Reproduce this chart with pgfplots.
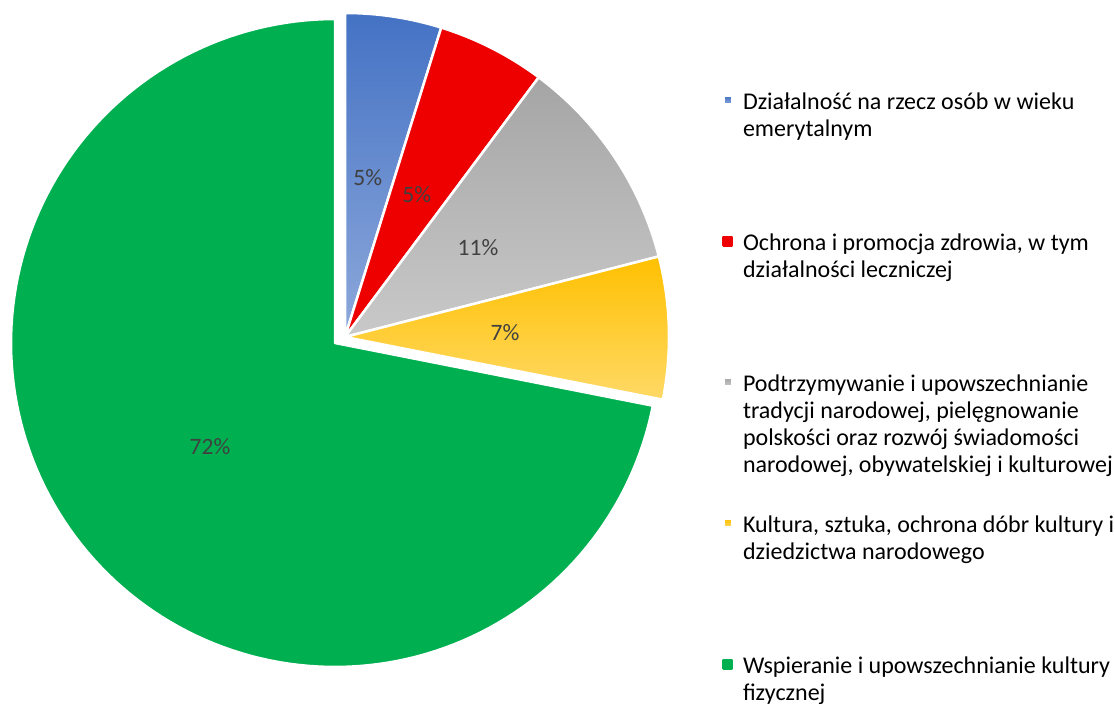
\documentclass[border=0pt]{standalone}
\usepackage{pgfplots}
\pgfplotsset{compat=1.18}
\usepackage{pgfplotstable}
\usepackage{fontspec}
\setmainfont{Carlito}
\definecolor{bluetop}{HTML}{4472C4}
\definecolor{bluebot}{HTML}{8EA9DB}
\definecolor{redc}{HTML}{EE0000}
\definecolor{graytop}{HTML}{A5A5A5}
\definecolor{graybot}{HTML}{C9C9C9}
\definecolor{yeltop}{HTML}{FFC000}
\definecolor{yelbot}{HTML}{FFD966}
\definecolor{greenc}{HTML}{00B050}
\definecolor{labelc}{HTML}{404040}

\pgfplotstableread{
share
4.8
5.4
10.8
7.1
71.9
}\piedata

\begin{document}
\begin{tikzpicture}
\pgfplotstablegetelem{0}{share}\of\piedata \pgfmathsetmacro{\vA}{\pgfplotsretval}
\pgfplotstablegetelem{1}{share}\of\piedata \pgfmathsetmacro{\vB}{\pgfplotsretval}
\pgfplotstablegetelem{2}{share}\of\piedata \pgfmathsetmacro{\vC}{\pgfplotsretval}
\pgfplotstablegetelem{3}{share}\of\piedata \pgfmathsetmacro{\vD}{\pgfplotsretval}
\pgfplotstablegetelem{4}{share}\of\piedata \pgfmathsetmacro{\vE}{\pgfplotsretval}
\pgfmathsetmacro{\aO}{90}
\pgfmathsetmacro{\aA}{\aO-3.6*\vA}
\pgfmathsetmacro{\aB}{\aA-3.6*\vB}
\pgfmathsetmacro{\aC}{\aB-3.6*\vC}
\pgfmathsetmacro{\aD}{\aC-3.6*\vD}
\pgfmathsetmacro{\aE}{\aD-3.6*\vE}
\def\cx{345}\def\cy{367}\def\gx{335}\def\gy{361}\def\R{324}
\useasboundingbox (0,0) rectangle (1115bp,704bp);
\begin{axis}[
  at={(0,0)}, anchor=south west,
  scale only axis, width=1115bp, height=704bp,
  xmin=0, xmax=1115, ymin=0, ymax=704,
  hide axis, clip=false,
  legend cell align=left,
  legend style={draw=none, fill=none, inner sep=0pt, outer sep=0pt,
    at={(axis cs:722,616)}, anchor=north west,
    row sep={141bp,between origins}, column sep=8bp,
    cells={anchor=base west, inner sep=0pt},
    font=\fontsize{24bp}{26.8bp}\selectfont},
]
\addplot[draw=white, line width=2.5bp, line join=round, top color=bluetop, bottom color=bluebot,
  domain=\aA:\aO, samples=40, variable=\t,
  legend image code/.code={\shade[top color=bluetop, bottom color=bluebot] (0bp,5.5bp) rectangle (8.5bp,14bp);}]
  ({\cx+\R*cos(\t)}, {\cy+\R*sin(\t)}) -- (axis cs:\cx,\cy) -- cycle;
\addlegendentry{\parbox[t]{400bp}{\raggedright\rule{0pt}{20bp}Działalność na rzecz osób w wieku\\emerytalnym}}
\addplot[draw=white, line width=2.5bp, line join=round, fill=redc,
  domain=\aB:\aA, samples=40, variable=\t,
  legend image code/.code={\fill[redc] (0bp,5.5bp) rectangle (8.5bp,14bp);}]
  ({\cx+\R*cos(\t)}, {\cy+\R*sin(\t)}) -- (axis cs:\cx,\cy) -- cycle;
\addlegendentry{\parbox[t]{400bp}{\raggedright\rule{0pt}{20bp}Ochrona i promocja zdrowia, w tym\\działalności leczniczej}}
\addplot[draw=white, line width=2.5bp, line join=round, top color=graytop, bottom color=graybot,
  domain=\aC:\aB, samples=40, variable=\t,
  legend image code/.code={\shade[top color=graytop, bottom color=graybot] (0bp,5.5bp) rectangle (8.5bp,14bp);}]
  ({\cx+\R*cos(\t)}, {\cy+\R*sin(\t)}) -- (axis cs:\cx,\cy) -- cycle;
\addlegendentry{\parbox[t]{400bp}{\raggedright\rule{0pt}{20bp}Podtrzymywanie i upowszechnianie\\tradycji narodowej, pielęgnowanie\\polskości oraz rozwój świadomości\\narodowej, obywatelskiej i kulturowej}}
\addplot[draw=white, line width=2.5bp, line join=round, top color=yeltop, bottom color=yelbot,
  domain=\aD:\aC, samples=40, variable=\t,
  legend image code/.code={\shade[top color=yeltop, bottom color=yelbot] (0bp,5.5bp) rectangle (8.5bp,14bp);}]
  ({\cx+\R*cos(\t)}, {\cy+\R*sin(\t)}) -- (axis cs:\cx,\cy) -- cycle;
\addlegendentry{\parbox[t]{400bp}{\raggedright\rule{0pt}{20bp}Kultura, sztuka, ochrona dóbr kultury i\\dziedzictwa narodowego}}
\addplot[draw=white, line width=2.5bp, line join=round, fill=greenc,
  domain=\aE:\aD, samples=150, variable=\t,
  legend image code/.code={\fill[greenc] (0bp,5.5bp) rectangle (8.5bp,14bp);}]
  ({\gx+\R*cos(\t)}, {\gy+\R*sin(\t)}) -- (axis cs:\gx,\gy) -- cycle;
\addlegendentry{\parbox[t]{400bp}{\raggedright\rule{0pt}{20bp}Wspieranie i upowszechnianie kultury\\fizycznej}}
\begin{scope}[every node/.style={text=labelc, font=\fontsize{23.5bp}{26.8bp}\selectfont}]
\node at (axis cs:367.7,526) {5\%};
\node at (axis cs:416.7,509) {5\%};
\node at (axis cs:478,456) {11\%};
\node at (axis cs:505,371) {7\%};
\node at (axis cs:210,257) {72\%};
\end{scope}
\end{axis}
\end{tikzpicture}
\end{document}
